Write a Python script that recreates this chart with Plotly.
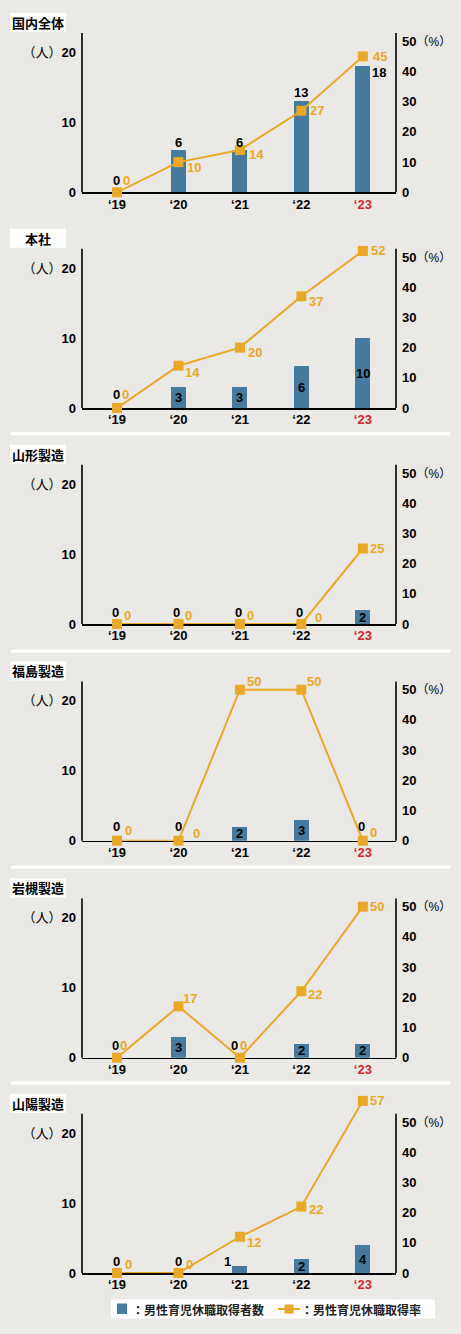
import plotly.graph_objects as go

# ---------------- data ----------------
years = ["‘19", "‘20", "‘21", "‘22", "‘23"]
panel_names = ["国内全体", "本社", "山形製造", "福島製造", "岩槻製造", "山陽製造"]
counts_all = [0, 6, 6, 13, 18]
rates_all = [0, 10, 14, 27, 45]
counts_honsha = [0, 3, 3, 6, 10]
rates_honsha = [0, 14, 20, 37, 52]
counts_yamagata = [0, 0, 0, 0, 2]
rates_yamagata = [0, 0, 0, 0, 25]
counts_fukushima = [0, 0, 2, 3, 0]
rates_fukushima = [0, 0, 50, 50, 0]
counts_iwatsuki = [0, 3, 0, 2, 2]
rates_iwatsuki = [0, 17, 0, 22, 50]
counts_sanyo = [0, 0, 1, 2, 4]
rates_sanyo = [0, 0, 12, 22, 57]
left_ticks = [0, 10, 20]
right_ticks = [0, 10, 20, 30, 40, 50]
legend_labels = ["男性育児休職取得者数", "男性育児休職取得率"]

counts = [counts_all, counts_honsha, counts_yamagata, counts_fukushima, counts_iwatsuki, counts_sanyo]
rates = [rates_all, rates_honsha, rates_yamagata, rates_fukushima, rates_iwatsuki, rates_sanyo]

# ---------------- styles / layout ----------------
W, H = 461, 1334
BG = "#EBE9E5"
BAR_C = "#457B9F"
LINE_C = "#EAA824"
RED = "#D4262C"
NUM_FONT = "Liberation Sans, Arial, Noto Sans CJK JP, sans-serif"
JP_FONT = "Noto Sans CJK JP, sans-serif"

PLOT_X0, PLOT_X1 = 82, 396
BOTTOMS = [192.3, 408, 624, 840.7, 1057.7, 1273]
AXIS_H = 159.3
EXT = 26
PX_COUNT = 7.0
PX_RATE = 3.02
SEPARATORS = [433.8, 651.3, 867.3, 1083]

# label placements: "mid" = centred inside bar, (dx, dy) = pixel offset from point (dy up)
count_place = [
    [(-1, 12), (0, 8), (0, 8), (0, 9), (16, -6)],
    [(-1, 14), "mid", "mid", "mid", "mid"],
    [(-1.5, 12), (-1.5, 12), (-1.5, 12), (-1.5, 12), "mid"],
    [(-1, 14), (0, 14), "mid", "mid", (-1, 14)],
    [(-2, 12), "mid", (-5, 12), "mid", "mid"],
    [(-1, 12), (0, 12), (-12, 5), "mid", "mid"],
]
rate_place = [
    [(9, 12), (16, -5.5), (17, -4), (16, 0), (17, 0)],
    [(8, 14), (14, -7), (15, -5), (15, -5), (15, 0)],
    [(10, 9), (10, 9), (11, 9), (17, 7), (14, 0)],
    [(11, 10), (18, 7), (14, 8), (13, 8), (11, 8)],
    [(6, 12), (12, 8), (4, 12), (14, -3), (14, 0)],
    [(11, 9), (11, 9), (14, -6), (15, -3), (14, 0)],
]


def px(x):
    return x / W


def py(y):
    return 1 - y / H


fig = go.Figure()
layout = {}
annotations = []
shapes = []

for i in range(6):
    n = i + 1
    xs = "" if n == 1 else str(n)
    xr, yl, yr = "x" + xs, "y" + xs, "y" + str(n + 6)
    bottom = BOTTOMS[i]
    top = bottom - AXIS_H

    fig.add_trace(go.Bar(x=years, y=counts[i], xaxis=xr, yaxis=yl, width=0.244,
                         marker=dict(color=BAR_C, line=dict(width=0)),
                         showlegend=False, hoverinfo="skip"))
    fig.add_trace(go.Scatter(x=years, y=rates[i], xaxis=xr, yaxis=yr, mode="lines+markers",
                             line=dict(color=LINE_C, width=2),
                             marker=dict(symbol="square", size=10, color=LINE_C),
                             cliponaxis=False, showlegend=False, hoverinfo="skip"))

    dom = [py(bottom), py(top - EXT)]
    layout["xaxis" + xs] = dict(
        domain=[px(PLOT_X0), px(PLOT_X1)], anchor=yl, range=[-0.57, 4.54],
        type="category", tickvals=years,
        ticktext=["<b>%s</b>" % t if k < 4 else "<b><span style='color:%s'>%s</span></b>" % (RED, t)
                  for k, t in enumerate(years)],
        showline=True, linecolor="black", linewidth=1.6, showgrid=False, zeroline=False,
        ticks="", ticklen=0, tickfont=dict(family=NUM_FONT, size=13, color="black"),
        ticklabelstandoff=-1, layer="below traces", fixedrange=True, automargin=False)
    layout["yaxis" + xs] = dict(
        domain=dom, anchor=xr, range=[0, (AXIS_H + EXT) / PX_COUNT],
        tickvals=left_ticks,
        ticktext=["<b>%d</b>" % v if v != 20 else "（人）<b>%d</b>" % v for v in left_ticks],
        showline=False, showgrid=False, zeroline=False, ticks="", ticklen=0,
        tickfont=dict(family=NUM_FONT, size=13, color="black"), ticklabelstandoff=5,
        fixedrange=True, automargin=False)
    layout["yaxis" + str(n + 6)] = dict(
        overlaying=yl, side="right", anchor=xr, range=[0, (AXIS_H + EXT) / PX_RATE],
        tickvals=right_ticks,
        ticktext=["<b>%d</b>" % v if v != 50 else "<b>%d</b><span style='font-size:12px'>（%%）</span>" % v
                  for v in right_ticks],
        showline=False, showgrid=False, zeroline=False, ticks="", ticklen=0,
        tickfont=dict(family=NUM_FONT, size=13, color="black"), ticklabelstandoff=5,
        fixedrange=True, automargin=False)

    # vertical axis lines
    for xx in (PLOT_X0, PLOT_X1):
        shapes.append(dict(type="line", xref="paper", yref="paper", x0=px(xx), x1=px(xx),
                           y0=py(bottom), y1=py(top), line=dict(color="black", width=1.6)))

    # panel title box
    shapes.append(dict(type="rect", xref="paper", yref="paper", x0=px(10), x1=px(66),
                       y0=py(top - 20), y1=py(top - 1), fillcolor="white", line=dict(width=0),
                       layer="below"))
    annotations.append(dict(text="<b>%s</b>" % panel_names[i], xref="paper", yref="paper",
                            x=px(38), y=py(top - 10.5), showarrow=False, xanchor="center",
                            yanchor="middle", font=dict(family=JP_FONT, size=13, color="black")))

    # value labels
    for k in range(5):
        c = counts[i][k]
        pl = count_place[i][k]
        if pl == "mid":
            yy, dx, dy = c / 2, 0, 0
        else:
            yy, (dx, dy) = c, pl
        annotations.append(dict(text="<b>%d</b>" % c, x=years[k], y=yy, xref=xr, yref=yl,
                                xshift=dx, yshift=dy, showarrow=False,
                                xanchor="center", yanchor="middle",
                                font=dict(family=NUM_FONT, size=13, color="black")))
        r = rates[i][k]
        dx, dy = rate_place[i][k]
        annotations.append(dict(text="<b>%d</b>" % r, x=years[k], y=r, xref=xr, yref=yr,
                                xshift=dx, yshift=dy, showarrow=False,
                                xanchor="center", yanchor="middle",
                                font=dict(family=NUM_FONT, size=13, color=LINE_C)))

# separators
for s in SEPARATORS:
    shapes.append(dict(type="line", xref="paper", yref="paper", x0=px(11), x1=px(450),
                       y0=py(s), y1=py(s), line=dict(color="white", width=3), layer="below"))

# legend (manual)
LEG_Y = 1309
shapes.append(dict(type="rect", xref="paper", yref="paper", x0=px(111), x1=px(435),
                   y0=py(1318.5), y1=py(1299.5), fillcolor="white", line=dict(width=0)))
shapes.append(dict(type="rect", xref="paper", yref="paper", x0=px(117), x1=px(127),
                   y0=py(1314), y1=py(1303.5), fillcolor=BAR_C, line=dict(width=0)))
shapes.append(dict(type="line", xref="paper", yref="paper", x0=px(278), x1=px(300),
                   y0=py(LEG_Y), y1=py(LEG_Y), line=dict(color=LINE_C, width=2)))
shapes.append(dict(type="rect", xref="paper", yref="paper", x0=px(284.5), x1=px(293.5),
                   y0=py(LEG_Y + 4.5), y1=py(LEG_Y - 4.5), fillcolor=LINE_C, line=dict(width=0)))
annotations.append(dict(text="<b>：%s</b>" % legend_labels[0], xref="paper", yref="paper",
                        x=px(130), y=py(LEG_Y), xanchor="left", yanchor="middle", showarrow=False,
                        font=dict(family=JP_FONT, size=12, color="#222222")))
annotations.append(dict(text="<b>：%s</b>" % legend_labels[1], xref="paper", yref="paper",
                        x=px(299), y=py(LEG_Y), xanchor="left", yanchor="middle", showarrow=False,
                        font=dict(family=JP_FONT, size=12, color="#222222")))

fig.update_layout(**layout)
fig.update_layout(width=W, height=H, margin=dict(l=0, r=0, t=0, b=0, autoexpand=False),
                  paper_bgcolor=BG, plot_bgcolor="rgba(0,0,0,0)",
                  shapes=shapes, annotations=annotations, showlegend=False,
                  barmode="overlay", bargap=0)

POST = ("var d=document.documentElement,b=document.body;"
        "d.style.margin='0';d.style.overflow='hidden';"
        "b.style.margin='0';b.style.overflow='hidden';b.style.background='%s';" % BG)
fig.write_html("out.html", config={"displayModeBar": False, "staticPlot": True},
               post_script=POST)
